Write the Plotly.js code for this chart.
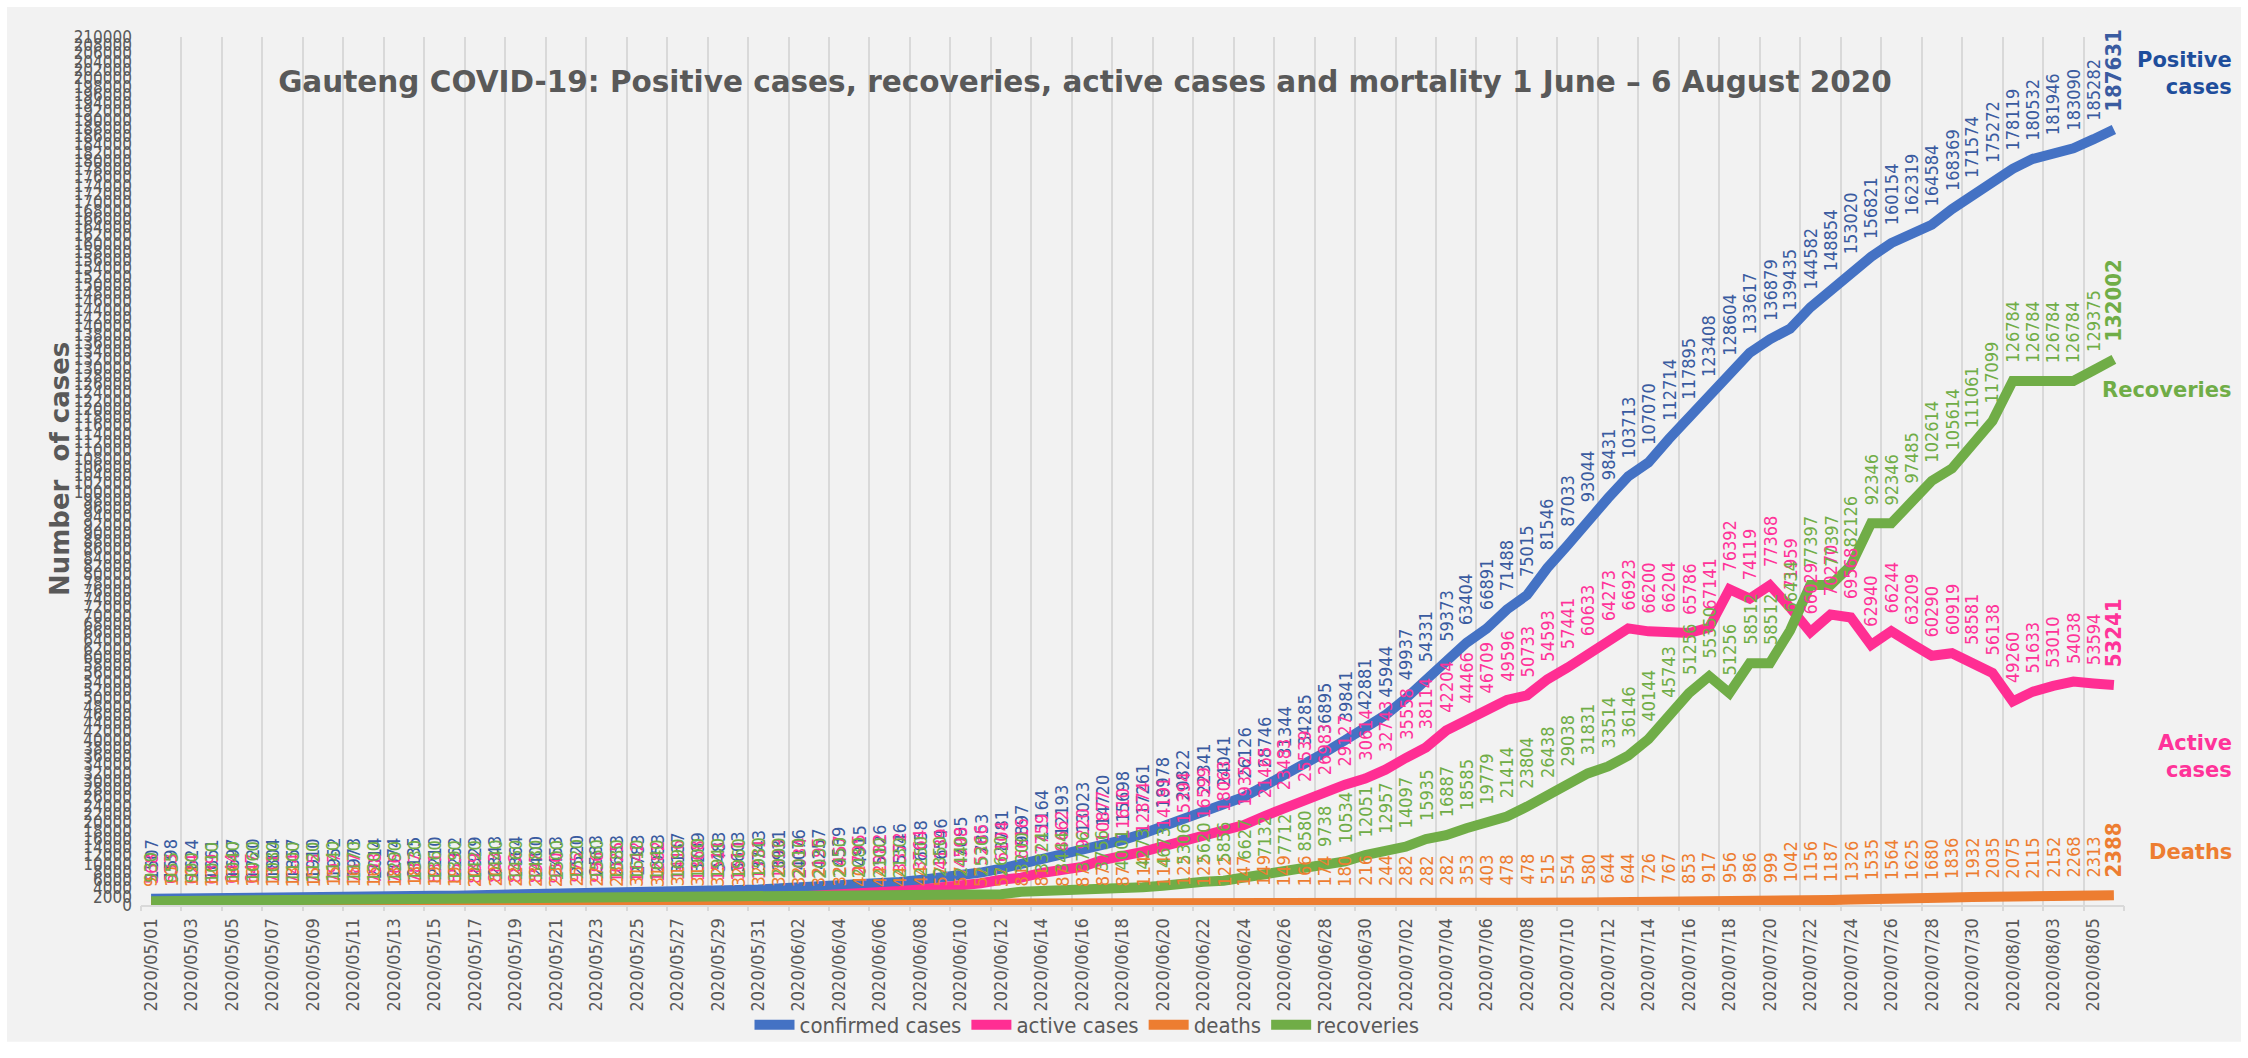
<!DOCTYPE html>
<html><head><meta charset="utf-8">
<script src="https://cdn.plot.ly/plotly-3.0.1.min.js"></script>
<style>html,body{margin:0;padding:0;background:#fff;overflow:hidden;} #chart{position:absolute;left:7px;top:7px;width:2234px;height:1051px;}</style>
</head><body><div id="chart"></div><script>
const dates = [
"2020/05/01","2020/05/02","2020/05/03","2020/05/04","2020/05/05","2020/05/06","2020/05/07","2020/05/08","2020/05/09","2020/05/10",
"2020/05/11","2020/05/12","2020/05/13","2020/05/14","2020/05/15","2020/05/16","2020/05/17","2020/05/18","2020/05/19","2020/05/20",
"2020/05/21","2020/05/22","2020/05/23","2020/05/24","2020/05/25","2020/05/26","2020/05/27","2020/05/28","2020/05/29","2020/05/30","2020/05/31",
"2020/06/01","2020/06/02","2020/06/03","2020/06/04","2020/06/05","2020/06/06","2020/06/07","2020/06/08","2020/06/09","2020/06/10",
"2020/06/11","2020/06/12","2020/06/13","2020/06/14","2020/06/15","2020/06/16","2020/06/17","2020/06/18","2020/06/19","2020/06/20",
"2020/06/21","2020/06/22","2020/06/23","2020/06/24","2020/06/25","2020/06/26","2020/06/27","2020/06/28","2020/06/29","2020/06/30",
"2020/07/01","2020/07/02","2020/07/03","2020/07/04","2020/07/05","2020/07/06","2020/07/07","2020/07/08","2020/07/09","2020/07/10",
"2020/07/11","2020/07/12","2020/07/13","2020/07/14","2020/07/15","2020/07/16","2020/07/17","2020/07/18","2020/07/19","2020/07/20",
"2020/07/21","2020/07/22","2020/07/23","2020/07/24","2020/07/25","2020/07/26","2020/07/27","2020/07/28","2020/07/29","2020/07/30","2020/07/31",
"2020/08/01","2020/08/02","2020/08/03","2020/08/04","2020/08/05","2020/08/06"];

const tickLabels = [
"2020/05/01","2020/05/03","2020/05/05","2020/05/07","2020/05/09","2020/05/11","2020/05/13","2020/05/15","2020/05/17","2020/05/19",
"2020/05/21","2020/05/23","2020/05/25","2020/05/27","2020/05/29","2020/05/31","2020/06/02","2020/06/04","2020/06/06","2020/06/08",
"2020/06/10","2020/06/12","2020/06/14","2020/06/16","2020/06/18","2020/06/20","2020/06/22","2020/06/24","2020/06/26","2020/06/28",
"2020/06/30","2020/07/02","2020/07/04","2020/07/06","2020/07/08","2020/07/10","2020/07/12","2020/07/14","2020/07/16","2020/07/18",
"2020/07/20","2020/07/22","2020/07/24","2020/07/26","2020/07/28","2020/07/30","2020/08/01","2020/08/03","2020/08/05"];

const confirmed = [
1507,1598,1624,1661,1697,1720,1804,1857,1910,1952,1973,2014,2074,2135,2210,2262,2329,2343,2364,2400,2453,2520,2583,2633,2783,2953,3137,3299,3483,3603,3743,
3931,4076,4257,4539,4915,5126,5546,6058,6546,7095,7853,8781,9897,11164,12193,13023,14720,15698,17261,18978,20822,22341,24041,26126,28746,31344,34285,36895,39841,42881,
45944,49937,54331,59373,63404,66891,71488,75015,81546,87033,93044,98431,103713,107070,112714,117895,123408,128604,133617,136879,139435,144582,148854,153020,156821,160154,162319,164584,168369,171574,175272,
178119,180532,181946,183090,185282,187631];

const active = [
568,633,624,639,644,647,711,744,775,797,787,798,766,787,831,853,889,883,882,897,930,975,996,1025,1142,1282,1416,1368,1511,1611,1731,
1899,2034,2195,2457,2795,2982,3372,3764,4139,4598,5266,6104,6616,7759,8662,9220,10877,11610,12874,14191,15394,16599,18063,19352,21465,23483,25539,26983,29127,30614,
32743,35558,38114,42204,44466,46709,49596,50733,54593,57441,60633,64273,66923,66200,66204,65786,67141,76392,74119,77368,71959,66029,70270,69568,62940,66244,63209,60290,60919,58581,56138,
49260,51633,53010,54038,53594,53241];

const deaths = [
9,10,10,12,13,13,13,13,15,15,16,16,18,18,19,19,20,20,22,23,23,25,27,28,31,31,31,31,32,32,32,
32,32,32,32,40,44,44,44,57,57,57,57,81,81,87,87,87,87,114,114,122,122,122,147,149,149,166,174,180,216,
244,282,282,282,353,403,478,478,515,554,580,644,644,726,767,853,917,956,986,999,1042,1156,1187,1326,1535,1564,1625,1680,1836,1932,2035,
2075,2115,2152,2268,2313,2388];

const recoveries = [
930,955,990,1010,1040,1060,1080,1100,1120,1140,1170,1200,1290,1330,1360,1390,1420,1440,1460,1480,1500,1520,1560,1580,1610,1640,1690,1900,1940,1960,1980,
2000,2010,2030,2050,2080,2100,2130,2250,2350,2440,2530,2620,3200,3324,3444,3716,3756,4001,4273,4673,5306,5620,5856,6627,7132,7712,8580,9738,10534,12051,
12957,14097,15935,16887,18585,19779,21414,23804,26438,29038,31831,33514,36146,40144,45743,51256,55350,51256,58512,58512,66434,77397,77397,82126,92346,92346,97485,102614,105614,111061,117099,
126784,126784,126784,126784,129375,132002];

const seriesNames = ["confirmed cases","active cases","deaths","recoveries"];
const lineColors = ["#4472C4","#FF2E93","#ED7D31","#70AD47"];
const labelColors = ["#3A5BA0","#FF3399","#ED7D31","#70AD47"];
const seriesData = [confirmed, active, deaths, recoveries];

const LBL_FONT = "'Liberation Sans Narrow','Arial Narrow','DejaVu Sans Condensed','Roboto Condensed','Liberation Sans',sans-serif";
const GRAY = "#595959";

const traces = seriesData.map((ys, k) => ({
  type: "scatter", mode: "lines", name: seriesNames[k], x: dates, y: ys,
  line: {color: lineColors[k], width: 10}, hoverinfo: "skip"
}));
// helper trace so the boundary grid axis renders
const gridPos = [];
for (let k = 0; k <= dates.length / 2; k++) gridPos.push(-0.5 + 2 * k);
traces.push({type: "scatter", mode: "markers", x: [-0.5], y: [0], xaxis: "x2", yaxis: "y",
  marker: {opacity: 0}, showlegend: false, hoverinfo: "skip"});

const annotations = [];
seriesData.forEach((ys, k) => {
  ys.forEach((v, i) => {
    const last = i === ys.length - 1;
    annotations.push({
      x: i, y: v, xref: "x", yref: "y", text: last ? "<b>" + v + "</b>" : String(v),
      textangle: -90, showarrow: false, xanchor: "center", yanchor: "bottom", yshift: 17,
      borderpad: 0,
      font: {family: LBL_FONT, size: last ? 22 : 18, color: labelColors[k]}
    });
  });
});

const W = 2234, H = 1051, L = 134, R = 117, T = 30, B = 145;
const pw = W - L - R, ph = H - T - B;
function px(xd) { return (xd - L) / pw; }
function py(yd) { return (H - B - yd) / ph; }

const sideLabels = [
  {text: "Positive<br>cases", color: "#1F4E9C", y: 67},
  {text: "Recoveries", color: "#70AD47", y: 386},
  {text: "Active<br>cases", color: "#FF3399", y: 756},
  {text: "Deaths", color: "#ED7D31", y: 853}
];
sideLabels.forEach(s => annotations.push({
  xref: "paper", yref: "paper", x: px(2227), y: py(s.y), xanchor: "right", yanchor: "middle",
  align: "right", showarrow: false, text: s.text,
  font: {family: "DejaVu Sans", size: 21, weight: "bold", color: s.color}
}));
annotations.push({
  xref: "paper", yref: "paper", x: px(53), y: py(466), textangle: -90, showarrow: false,
  xanchor: "center", yanchor: "middle", text: "Number  of cases",
  font: {family: "DejaVu Sans", size: 26, weight: "bold", color: GRAY}
});

const layout = {
  width: W, height: H,
  margin: {l: L, r: R, t: T, b: B, pad: 0},
  paper_bgcolor: "#F2F2F2", plot_bgcolor: "#F2F2F2",
  showlegend: true,
  title: {text: "Gauteng COVID-19: Positive cases, recoveries, active cases and mortality 1 June – 6 August 2020",
    x: 1078 / W, xref: "container", xanchor: "center", y: 1 - 75 / H, yref: "container", yanchor: "middle",
    font: {family: "DejaVu Sans", size: 29.5, weight: "bold", color: GRAY}},
  xaxis: {type: "category", range: [-0.5, dates.length - 0.5], tickmode: "array",
    tickvals: tickLabels, ticktext: tickLabels, tickangle: -90,
    tickfont: {family: LBL_FONT, size: 18, color: GRAY},
    showgrid: false, zeroline: false, showline: true, linecolor: "#D9D9D9", linewidth: 2, ticks: "",
    ticklabelstandoff: 4},
  xaxis2: {overlaying: "x", anchor: "y", side: "bottom", range: [-0.5, dates.length - 0.5],
    tickmode: "array", tickvals: gridPos, showticklabels: false, showgrid: true,
    gridcolor: "#D9D9D9", gridwidth: 2, ticks: "outside", ticklen: 5, tickwidth: 2, tickcolor: "#D9D9D9",
    zeroline: false, showline: false},
  yaxis: {range: [0, 210000], tickmode: "linear", tick0: 0, dtick: 2000, tickformat: "d",
    showgrid: false, zeroline: false,
    showline: false, ticks: "", tickfont: {family: LBL_FONT, size: 17, color: GRAY},
    ticklabelstandoff: 8},
  legend: {orientation: "h", x: px(1080), xanchor: "center", xref: "paper", y: py(1027), yanchor: "middle",
    font: {family: LBL_FONT, size: 22, color: GRAY}, bgcolor: "rgba(0,0,0,0)", itemwidth: 40},
  shapes: [{type: "rect", xref: "paper", yref: "paper", x0: px(-20), x1: px(2260), y0: py(1044), y1: py(1070),
    fillcolor: "#FFFFFF", line: {width: 0}, layer: "below"}],
  annotations: annotations
};

Plotly.newPlot("chart", traces, layout, {staticPlot: true, displayModeBar: false});
</script></body></html>
